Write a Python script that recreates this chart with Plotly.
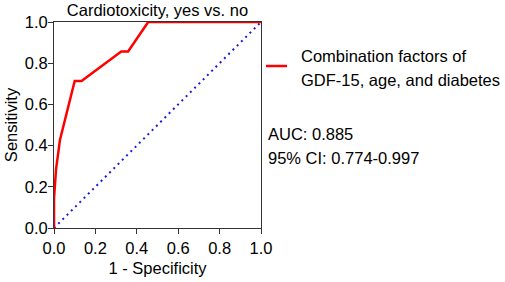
import plotly.graph_objects as go

# ROC curve data
fpr = [0, 0, 0.01, 0.029, 0.1, 0.133, 0.325, 0.358, 0.455, 1.0]
tpr = [0, 0.143, 0.286, 0.429, 0.714, 0.714, 0.857, 0.857, 1.0, 1.0]
ref_x = [0, 1]
ref_y = [0, 1]
tick_vals = [0, 0.2, 0.4, 0.6, 0.8, 1.0]
tick_text = ["0.0", "0.2", "0.4", "0.6", "0.8", "1.0"]
legend_lines = ["Combination factors of", "GDF-15, age, and diabetes"]
auc_text = "AUC: 0.885"
ci_text = "95% CI: 0.774-0.997"
title_text = "Cardiotoxicity, yes vs. no"

FONT = "Liberation Sans, Arial, sans-serif"
FS = 16.5
L, R, T, B = 54, 261, 22, 228  # plot area in pixels
W, H = 505, 282
PW, PH = R - L, B - T


def px(xp):
    return (xp - L) / PW


def py(yp):
    return (B - yp) / PH


fig = go.Figure()
fig.add_trace(go.Scatter(x=ref_x, y=ref_y, mode="lines",
                         line=dict(color="#1a1adf", width=2, dash="2px,4px"),
                         showlegend=False, hoverinfo="skip", cliponaxis=False))
fig.add_trace(go.Scatter(x=fpr, y=tpr, mode="lines", name=" ".join(legend_lines),
                         line=dict(color="#ff0000", width=2.5),
                         showlegend=False, cliponaxis=False))

axis_common = dict(range=[0, 1], tickvals=tick_vals, ticktext=tick_text,
                   showgrid=False, zeroline=False, showline=True,
                   linecolor="#333333", linewidth=1, mirror=True,
                   ticks="outside", ticklen=5, tickcolor="#333333",
                   automargin=False,
                   tickfont=dict(family=FONT, size=FS, color="black"))

fig.update_layout(
    width=W, height=H,
    margin=dict(l=L, r=W - R, t=T, b=H - B, autoexpand=False),
    paper_bgcolor="white", plot_bgcolor="white",
    font=dict(family=FONT, size=FS, color="black"),
    title=dict(text=title_text, x=(L + R) / 2 / W, xanchor="center",
               y=1 - 10 / H, yanchor="middle",
               font=dict(family=FONT, size=FS, color="black")),
    xaxis=dict(**axis_common,
               title=dict(text="1 - Specificity", standoff=6,
                          font=dict(family=FONT, size=FS))),
    yaxis=dict(**axis_common, ticklabelstandoff=-3,
               title=dict(text="Sensitivity", standoff=2,
                          font=dict(family=FONT, size=FS))),
    showlegend=False,
)

# legend (drawn manually)
fig.add_shape(type="line", xref="paper", yref="paper",
              x0=px(266), x1=px(287), y0=py(66), y1=py(66),
              line=dict(color="#ff0000", width=2.5))
for txt, yc in zip(legend_lines, [56, 80]):
    fig.add_annotation(text=txt, xref="paper", yref="paper",
                       x=px(299), y=py(yc), xanchor="left", yanchor="middle",
                       showarrow=False, font=dict(family=FONT, size=FS, color="black"))

for txt, yc in [(auc_text, 134), (ci_text, 158)]:
    fig.add_annotation(text=txt, xref="paper", yref="paper",
                       x=px(266), y=py(yc), xanchor="left", yanchor="middle",
                       showarrow=False, font=dict(family=FONT, size=FS, color="black"))

fig.write_html("out.html", config={"displayModeBar": False},
               post_script="document.body.style.margin='0px';document.body.style.overflow='hidden';")
